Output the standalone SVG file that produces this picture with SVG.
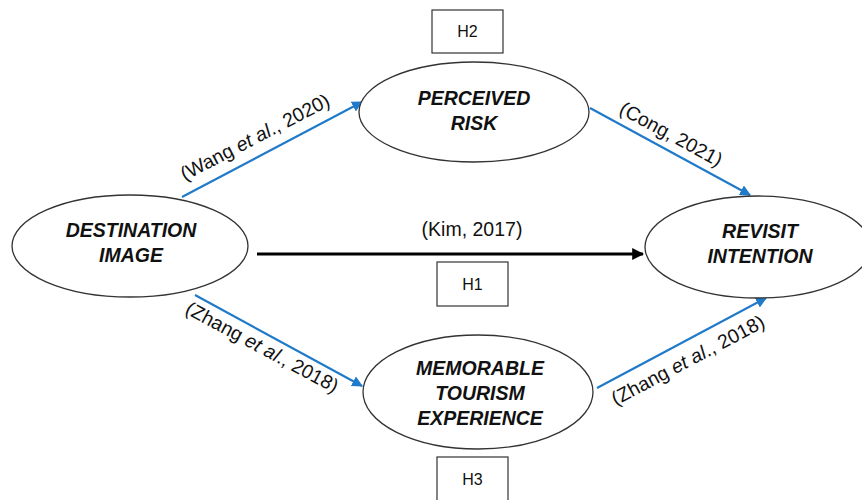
<svg xmlns="http://www.w3.org/2000/svg" width="862" height="500" viewBox="0 0 862 500">
<defs>
<marker id="ab" viewBox="0 0 10 10" refX="9" refY="5" markerWidth="5" markerHeight="5" orient="auto"><path d="M0,0 L10,5 L0,10 z" fill="#1f7ac9"/></marker>
<marker id="ak" viewBox="0 0 10 10" refX="9" refY="5" markerWidth="4" markerHeight="4" orient="auto"><path d="M0,0 L10,5 L0,10 z" fill="#000"/></marker>
</defs>
<style>
.node{fill:#fff;stroke:#333;stroke-width:1.3}
.nt{font-family:"Liberation Sans",Arial,sans-serif;font-size:19.5px;font-weight:bold;font-style:italic;text-anchor:middle;fill:#111}
.box{fill:#fff;stroke:#333;stroke-width:1.2}
.bt{font-family:"Liberation Sans",Arial,sans-serif;font-size:16px;text-anchor:middle;fill:#111}
.lab{font-family:"Liberation Sans",Arial,sans-serif;font-size:19.5px;text-anchor:middle;fill:#111}
.blue{stroke:#1f7ac9;stroke-width:2.2;fill:none;marker-end:url(#ab)}
.black{stroke:#000;stroke-width:3;fill:none;marker-end:url(#ak)}
</style>
<rect width="862" height="500" fill="#fff"/>
<g id="connectors">
<line class="blue" x1="182" y1="197" x2="362" y2="102"/>
<line class="blue" x1="590" y1="108" x2="750" y2="195"/>
<line class="blue" x1="195" y1="295" x2="362" y2="386"/>
<line class="blue" x1="597" y1="388" x2="766" y2="298"/>
<line class="black" x1="257" y1="254" x2="643" y2="254"/>
<text class="lab" transform="translate(258,143) rotate(-27.5)">(Wang <tspan font-style="italic">et al</tspan>., 2020)</text>
<text class="lab" transform="translate(668,140) rotate(28.5)">(Cong, 2021)</text>
<text class="lab" transform="translate(259,353) rotate(28.3)">(Zhang <tspan font-style="italic">et al</tspan>., 2018)</text>
<text class="lab" transform="translate(691,366) rotate(-27.9)">(Zhang <tspan font-style="italic">et al</tspan>., 2018)</text>
<text class="lab" x="472" y="236">(Kim, 2017)</text>
</g>
<g id="destination-image">
<ellipse class="node" cx="130" cy="246" rx="118" ry="51"/>
<text class="nt" x="131" y="237">DESTINATION</text>
<text class="nt" x="131" y="262">IMAGE</text>
</g>
<g id="perceived-risk">
<ellipse class="node" cx="474" cy="112" rx="115" ry="50"/>
<text class="nt" x="474" y="105">PERCEIVED</text>
<text class="nt" x="474" y="130">RISK</text>
</g>
<g id="revisit-intention">
<ellipse class="node" cx="758" cy="247" rx="113" ry="51"/>
<text class="nt" x="760" y="238">REVISIT</text>
<text class="nt" x="760" y="263">INTENTION</text>
</g>
<g id="memorable-tourism-experience">
<ellipse class="node" cx="478" cy="392" rx="115" ry="57"/>
<text class="nt" x="480" y="375">MEMORABLE</text>
<text class="nt" x="480" y="400">TOURISM</text>
<text class="nt" x="480" y="425">EXPERIENCE</text>
</g>
<g id="h2">
<rect class="box" x="432" y="10" width="71" height="43"/>
<text class="bt" x="467.5" y="37">H2</text>
</g>
<g id="h1">
<rect class="box" x="437" y="262" width="71" height="44"/>
<text class="bt" x="472.5" y="290">H1</text>
</g>
<g id="h3">
<rect class="box" x="437" y="457" width="71" height="50"/>
<text class="bt" x="472.5" y="485">H3</text>
</g>
</svg>
